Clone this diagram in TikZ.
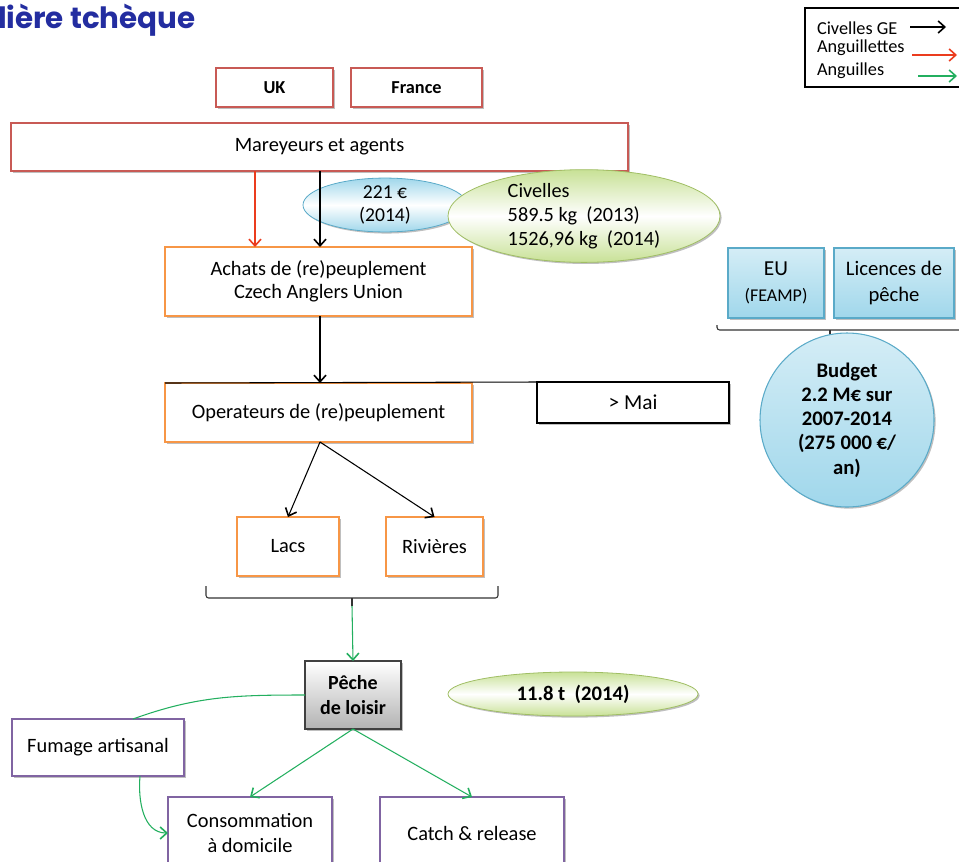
\documentclass[tikz,border=0pt]{standalone}
\usepackage{fontspec}
\setmainfont{Carlito}
\newfontfamily\titlefont{Poppins}
\usetikzlibrary{arrows.meta,shapes.geometric,shadows,calc}
\definecolor{cred}{RGB}{200,90,85}
\definecolor{corange}{RGB}{247,150,70}
\definecolor{cpurple}{RGB}{128,100,162}
\definecolor{cbluedark}{RGB}{90,170,200}
\definecolor{cblue}{RGB}{160,215,235}
\definecolor{cgreendark}{RGB}{160,190,100}
\definecolor{cgreen}{RGB}{200,225,150}
\definecolor{carrgreen}{RGB}{35,175,95}
\definecolor{carrred}{RGB}{235,60,30}
\definecolor{ctitle}{RGB}{35,45,160}
\begin{document}
\begin{tikzpicture}[x=0.75pt,y=-0.75pt,
  every node/.style={font=\fontsize{15.3}{18}\selectfont, inner sep=0pt, outer sep=0pt},
  sz/.style 2 args={minimum width=#1*0.75pt, minimum height=#2*0.75pt},
  shad/.style={drop shadow={shadow xshift=1.2pt, shadow yshift=-1.2pt, opacity=0.25, fill=black}},
  box/.style={draw, fill=white, align=center, line width=0.8pt, shad},
  redbox/.style={box, draw=cred, line width=1pt},
  orbox/.style={box, draw=corange, line width=1pt},
  orthick/.style={box, draw=corange, line width=1.6pt},
  purbox/.style={box, draw=cpurple, line width=1.6pt},
  bluebox/.style={box, draw=cbluedark, top color=cblue!45, bottom color=cblue},
  grayellipse/.style={ellipse, draw, align=center, line width=0.6pt, shad},
  blkarr/.style={draw=black, line width=0.8pt, -{Straight Barb[length=5pt,width=9pt,line width=1.2pt]}},
  redarr/.style={draw=carrred, line width=0.8pt, -{Straight Barb[length=5pt,width=9pt,line width=1.2pt]}},
  grnarr/.style={draw=carrgreen, line width=0.8pt, -{Straight Barb[length=5pt,width=9pt,line width=1.2pt]}},
  grnline/.style={draw=carrgreen, line width=0.8pt},
  bracestyle/.style={draw=black!80, line width=0.8pt, rounded corners=2pt},
  legtxt/.style={anchor=west, font=\fontsize{13.7}{16}\selectfont}
]
\useasboundingbox (0,0) rectangle (959,861);

% title
\node[anchor=west, text=ctitle, font=\titlefont\bfseries\fontsize{22}{26}\selectfont] (title) at (-2,20) {lière tchèque};

% legend
\node[draw, line width=0.8pt, anchor=north west, sz={160}{79}] (leg) at (805,8) {};
\node[legtxt] (l1) at (817,28) {Civelles GE};
\node[legtxt] (l2) at (817,48) {Anguillettes};
\node[legtxt] (l3) at (817,71) {Anguilles};
\coordinate (l1a) at (910,27); \coordinate (l1b) at (946,27);
\coordinate (l2a) at (912,55); \coordinate (l2b) at (957,55);
\coordinate (l3a) at (918,76); \coordinate (l3b) at (957,76);
\draw[blkarr] (l1a) -- (l1b);
\draw[redarr] (l2a) -- (l2b);
\draw[grnarr] (l3a) -- (l3b);

% top boxes
\node[redbox, sz={117}{39}, font=\bfseries\fontsize{13.7}{16}\selectfont] (uk) at (274.5,87.5) {UK};
\node[redbox, sz={131}{39}, font=\bfseries\fontsize{13.7}{16}\selectfont] (fr) at (416.5,87.5) {France};
\node[redbox, sz={617}{48}] (mar) at (319.5,147) {Mareyeurs et agents};

% ellipses
\node[grayellipse, draw=cbluedark, top color=cblue, bottom color=cblue, middle color=white, sz={164}{50}, font=\fontsize{14.7}{17}\selectfont] (eur) at (385,205) {221 €\\(2014)};
\node[grayellipse, draw=cgreendark, top color=cgreen, bottom color=cgreen, middle color=white, sz={272}{80}, align=left, font=\fontsize{15.2}{18}\selectfont] (civ) at (584,216) {Civelles\\589.5 kg~ (2013)\\1526,96 kg~ (2014)};

% achats / operateurs
\node[orbox, sz={307}{69}, font=\fontsize{15.3}{17.3}\selectfont] (ach) at (318.5,281.5) {Achats de (re)peuplement\\Czech Anglers Union};
\node[orbox, sz={307}{59}] (ope) at (318.5,412.5) {Operateurs de (re)peuplement};
\node[box, sz={192}{41}, font=\fontsize{16}{18}\selectfont] (mai) at (633,402.5) {> Mai};

\coordinate (xr) at (255,0);
\coordinate (xb) at (320,0);
\draw[redarr] (mar.south -| xr) -- (ach.north -| xr);
\draw[blkarr] (mar.south -| xb) -- (ach.north -| xb);
\draw[blkarr] (ach.south -| xb) -- (ope.north -| xb);
\draw[line width=0.8pt] (ope.north west) -- (mai.north west);

% lacs / rivieres
\node[orthick, sz={102}{59}] (lac) at (288,546.5) {Lacs};
\node[orthick, sz={97}{59}] (riv) at (434.5,546.5) {Rivières};
\draw[blkarr] (ope.south -| xb) -- (lac.north);
\draw[blkarr] (ope.south -| xb) -- (riv.north);

% brace 1
\draw[bracestyle] (206,586) |- (498,598) -- (498,586);
\draw[bracestyle] (352,598) -- (352,606);
\coordinate (bt) at (352,606);

% peche
\node[box, draw=black!75, top color=white, bottom color=black!30, sz={96}{68}, font=\bfseries\fontsize{15}{19}\selectfont] (pec) at (353,695) {Pêche\\de loisir};
\draw[grnarr] (bt) -- (pec.north);
\node[grayellipse, draw=cgreendark, top color=cgreen, bottom color=cgreen, middle color=white, sz={250}{44}, font=\bfseries\fontsize{15.5}{18}\selectfont] (t118) at (573,694) {11.8 t~ (2014)};

% bottom boxes
\node[purbox, sz={172}{57}] (fum) at (98,747.5) {Fumage artisanal};
\node[purbox, sz={164}{72}, font=\fontsize{15.3}{19}\selectfont] (con) at (250,833) {Consommation\\à domicile};
\node[purbox, sz={184}{72}] (cat) at (472,833) {Catch \& release};
\coordinate (xf) at (133,0);
\coordinate (xg) at (140,0);
\draw[grnline] (pec.west) to[out=180,in=20] (fum.north -| xf);
\draw[grnarr] (fum.south -| xg) to[out=-95,in=180] (con.west);
\draw[grnarr] (pec.south) -- (con.north);
\draw[grnarr] (pec.south) -- (cat.north);

% right side: funding
\node[bluebox, sz={96}{70}, font=\fontsize{16}{19}\selectfont] (eu) at (776,283) {EU\\{\fontsize{13.5}{16}\selectfont (FEAMP)}};
\node[bluebox, sz={120}{70}, font=\fontsize{15.5}{20}\selectfont] (lic) at (894,283) {Licences de\\pêche};
\draw[bracestyle] (717,325) |- (966,330);
\draw[bracestyle] (830,330) -- (830,337);
\node[circle, draw=cbluedark, line width=0.8pt, top color=cblue!45, bottom color=cblue, shad, minimum size=174*0.75pt, align=center, font=\bfseries\fontsize{15.5}{18.2}\selectfont] (bud) at (847,420) {Budget\\2.2 M€ sur\\2007-2014\\(275 000 €/\\an)};
\end{tikzpicture}
\end{document}
